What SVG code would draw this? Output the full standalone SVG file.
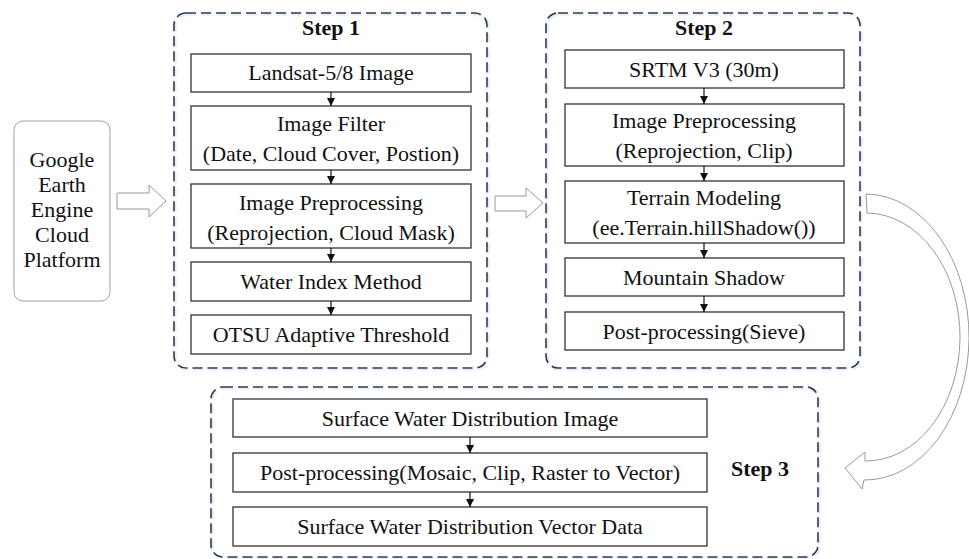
<svg xmlns="http://www.w3.org/2000/svg" width="969" height="559" viewBox="0 0 969 559">
<style>
  text { font-family: "Liberation Serif", "Times New Roman", "DejaVu Serif", serif; fill: #111; }
  .t { font-size: 22px; text-anchor: middle; }
  .step { font-size: 22px; font-weight: bold; text-anchor: middle; }
  .box { fill: #fff; stroke: #333; stroke-width: 1.3; }
  .dash { fill: none; stroke: #2f3440; stroke-width: 1.6; stroke-dasharray: 10 5; filter: url(#glow); }
  .hollow { fill: #fff; stroke: #9a9a9a; stroke-width: 1; }
  .conn { stroke: #111; stroke-width: 1.2; fill: none; marker-end: url(#ah); }
</style>
<defs>
  <marker id="ah" viewBox="0 0 10 10" refX="10" refY="5" markerWidth="8" markerHeight="8" markerUnits="userSpaceOnUse" orient="auto">
    <path d="M0,0 L10,5 L0,10 z" fill="#111"/>
  </marker>
  <filter id="glow" x="-5%" y="-5%" width="110%" height="110%">
    <feDropShadow dx="1" dy="1" stdDeviation="1.2" flood-color="#8fb8e0" flood-opacity="0.6"/>
  </filter>
</defs>
<rect width="969" height="559" fill="#fff"/>

<g id="gee">
  <rect x="14" y="121" width="96" height="180" rx="9" fill="#fff" stroke="#a0a0a0" stroke-width="1"/>
  <text class="t" x="62" y="167">Google</text>
  <text class="t" x="62" y="192">Earth</text>
  <text class="t" x="62" y="217">Engine</text>
  <text class="t" x="62" y="242">Cloud</text>
  <text class="t" x="62" y="267">Platform</text>
</g>

<g id="step1">
  <rect class="dash" x="174" y="13" width="313" height="355" rx="12"/>
  <text class="step" x="331" y="35">Step 1</text>
  <g id="s1-landsat"><rect class="box" x="191" y="54" width="280" height="38"/><text class="t" x="331" y="80">Landsat-5/8 Image</text></g>
  <g id="s1-filter"><rect class="box" x="191" y="106" width="280" height="64"/><text class="t" x="331" y="131">Image Filter</text><text class="t" x="331" y="161">(Date, Cloud Cover, Postion)</text></g>
  <g id="s1-prep"><rect class="box" x="191" y="184" width="280" height="64"/><text class="t" x="331" y="210">Image Preprocessing</text><text class="t" x="331" y="240">(Reprojection, Cloud Mask)</text></g>
  <g id="s1-wim"><rect class="box" x="191" y="262" width="280" height="39"/><text class="t" x="331" y="289">Water Index Method</text></g>
  <g id="s1-otsu"><rect class="box" x="191" y="315" width="280" height="39"/><text class="t" x="331" y="342">OTSU Adaptive Threshold</text></g>
</g>

<g id="step2">
  <rect class="dash" x="546" y="13" width="314" height="355" rx="12"/>
  <text class="step" x="704" y="35">Step 2</text>
  <g id="s2-srtm"><rect class="box" x="565" y="50" width="279" height="38"/><text class="t" x="704" y="77">SRTM V3 (30m)</text></g>
  <g id="s2-prep"><rect class="box" x="565" y="104" width="279" height="62"/><text class="t" x="704" y="128">Image Preprocessing</text><text class="t" x="704" y="158">(Reprojection, Clip)</text></g>
  <g id="s2-terrain"><rect class="box" x="565" y="181" width="279" height="62"/><text class="t" x="704" y="205">Terrain Modeling</text><text class="t" x="704" y="235">(ee.Terrain.hillShadow())</text></g>
  <g id="s2-shadow"><rect class="box" x="565" y="258" width="279" height="38"/><text class="t" x="704" y="285">Mountain Shadow</text></g>
  <g id="s2-post"><rect class="box" x="565" y="312" width="279" height="38"/><text class="t" x="704" y="339">Post-processing(Sieve)</text></g>
</g>

<g id="step3">
  <rect class="dash" x="211" y="387" width="607" height="170" rx="12"/>
  <text class="step" x="760" y="476">Step 3</text>
  <g id="s3-img"><rect class="box" x="233" y="399" width="474" height="38"/><text class="t" x="470" y="426">Surface Water Distribution Image</text></g>
  <g id="s3-post"><rect class="box" x="233" y="453" width="474" height="39"/><text class="t" x="470" y="480">Post-processing(Mosaic, Clip, Raster to Vector)</text></g>
  <g id="s3-vec"><rect class="box" x="233" y="507" width="474" height="39"/><text class="t" x="470" y="534">Surface Water Distribution Vector Data</text></g>
</g>

<g id="connectors">
  <line class="conn" x1="331" y1="92" x2="331" y2="106"/>
  <line class="conn" x1="331" y1="170" x2="331" y2="184"/>
  <line class="conn" x1="331" y1="248" x2="331" y2="262"/>
  <line class="conn" x1="331" y1="301" x2="331" y2="315"/>
  <line class="conn" x1="704" y1="88" x2="704" y2="104"/>
  <line class="conn" x1="704" y1="166" x2="704" y2="181"/>
  <line class="conn" x1="704" y1="243" x2="704" y2="258"/>
  <line class="conn" x1="704" y1="296" x2="704" y2="312"/>
  <line class="conn" x1="470" y1="437" x2="470" y2="453"/>
  <line class="conn" x1="470" y1="492" x2="470" y2="507"/>
  <path class="hollow" d="M117,193 L149,193 L149,185 L166,201 L149,217 L149,209 L117,209 Z"/>
  <path class="hollow" d="M495,196 L526,196 L526,188 L543,203 L526,218 L526,211 L495,211 Z"/>
  <path class="hollow" d="M866,194 A104,143 0 0 1 864,480 L862,489 L845,468 L865,452 L865,461 A94,124 0 0 0 867,213 Z"/>
</g>
</svg>
